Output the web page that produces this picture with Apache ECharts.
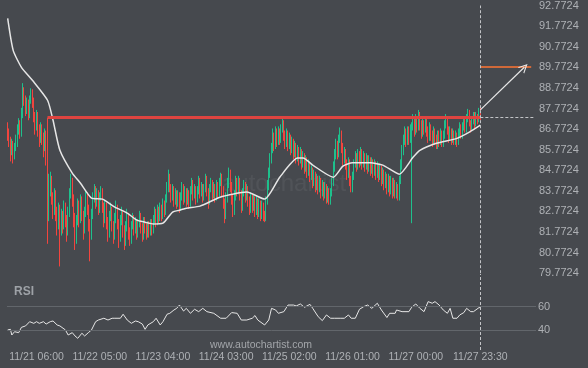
<!DOCTYPE html>
<html><head><meta charset="utf-8">
<script src="https://cdn.jsdelivr.net/npm/echarts@6/dist/echarts.min.js"></script>
<style>html,body{margin:0;padding:0;background:#46494e;}#c{width:588px;height:368px;}</style>
</head><body><div id="c"></div>
<script>
const firstOpen = 86.9;
const closes = [
86.6,86.2,85.7,86.0,85.5,85.9,86.1,86.8,87.0,86.6,
87.5,88.6,88.2,87.7,88.0,87.5,88.2,88.6,88.1,87.4,
86.9,87.5,86.8,86.3,86.9,86.4,85.9,86.5,86.1,82.6,
83.8,84.3,83.5,82.9,83.6,82.8,82.2,82.9,81.9,82.6,
82.1,83.0,82.4,81.8,82.7,83.6,84.2,83.4,82.5,81.4,
82.3,83.1,82.4,83.3,82.6,81.9,82.7,83.5,82.9,82.2,
81.6,82.6,83.4,83.9,83.2,83.7,82.9,83.5,83.8,83.0,
82.4,83.1,82.3,81.7,82.5,82.9,82.1,81.6,82.4,83.0,
82.2,81.5,82.3,82.7,81.9,81.3,82.0,82.6,81.8,81.4,
82.1,82.5,81.9,82.3,81.7,82.2,82.6,82.0,81.6,82.3,
82.0,81.7,82.1,81.8,82.2,81.9,82.4,82.8,82.3,82.9,
82.5,83.0,82.6,83.2,82.8,83.4,83.9,84.5,84.0,83.5,
83.9,83.3,83.7,83.2,83.6,83.0,83.5,84.0,83.4,83.8,
83.3,83.7,83.2,83.8,84.2,83.6,83.9,83.4,83.8,84.3,
83.7,84.0,83.5,83.9,84.4,83.8,83.3,83.9,84.2,83.6,
84.0,83.5,84.1,83.7,84.2,84.5,83.8,83.2,82.6,83.4,
84.1,84.6,84.0,83.4,82.8,83.5,84.2,83.8,84.3,83.6,
83.0,83.7,84.1,83.5,83.9,83.3,82.9,83.5,83.0,83.4,
82.8,83.3,82.7,83.2,82.6,83.1,82.6,82.5,83.3,84.0,
84.6,85.3,85.8,86.4,86.0,86.6,86.2,86.7,86.3,86.8,
87.1,86.5,86.1,86.6,86.0,86.4,85.8,86.2,85.6,86.0,
85.4,85.8,85.3,85.7,85.1,85.5,84.9,85.3,84.7,85.1,
84.5,84.8,84.2,84.6,84.0,84.4,83.9,84.3,83.7,84.1,
83.6,84.0,83.4,83.8,83.3,83.7,84.2,84.9,85.5,86.0,
85.6,86.3,86.6,85.9,85.3,85.7,85.1,84.6,85.2,84.3,
83.8,84.5,85.1,85.5,85.0,85.6,85.2,85.7,85.1,85.5,
85.0,85.4,84.9,85.3,84.8,85.2,84.7,85.1,84.6,85.0,
84.5,84.9,84.3,84.7,84.1,84.5,83.9,84.4,83.8,84.3,
83.7,84.2,83.6,84.0,83.5,84.3,85.0,85.7,86.2,86.6,
86.2,86.7,86.3,86.8,86.9,87.2,86.7,87.3,86.9,87.5,
87.0,86.6,87.1,86.8,87.2,86.7,86.4,86.9,86.5,86.2,
86.7,86.3,86.0,86.5,86.2,86.6,86.1,86.5,87.0,87.3,
86.8,86.4,86.7,86.3,86.6,86.2,86.5,86.1,86.6,86.9,
86.5,86.9,87.2,86.8,87.3,87.6,87.1,86.8,87.2,87.5,
87.0,87.4,87.2,87.7,87.35];
const highs = [
87.1,86.8,86.4,86.3,86.2,86.1,86.5,87.0,87.3,87.2,
87.8,89.0,88.8,88.4,88.3,88.2,88.4,88.75,88.7,88.3,
87.6,87.7,87.6,87.0,87.1,87.0,86.6,86.8,86.7,87.32,
84.6,84.7,84.5,83.7,83.9,83.8,83.0,83.2,83.1,82.9,
82.8,83.3,83.2,82.6,83.0,83.9,84.6,84.4,83.6,82.7,
82.6,83.4,83.3,83.6,83.5,82.8,83.0,83.8,83.7,83.1,
82.4,82.9,83.7,84.1,84.0,83.9,83.8,83.7,84.0,83.9,
83.2,83.3,83.2,82.5,82.8,83.2,83.0,82.3,82.7,83.3,
83.1,82.4,82.6,83.0,82.8,82.1,82.3,82.9,82.7,82.0,
82.3,82.7,82.6,82.5,82.4,82.4,82.8,82.7,82.2,82.5,
82.5,82.2,82.3,82.3,82.4,82.4,82.6,83.0,82.9,83.1,
83.0,83.2,83.1,83.4,83.3,83.6,84.2,84.8,84.6,84.1,
84.1,84.0,83.9,83.8,83.8,83.7,83.7,84.2,84.1,84.0,
83.9,83.9,83.8,84.0,84.4,84.3,84.1,84.0,84.0,84.5,
84.4,84.2,84.1,84.1,84.6,84.5,83.9,84.1,84.4,84.3,
84.2,84.1,84.3,84.2,84.4,84.65,84.6,84.0,83.4,83.7,
84.4,84.9,84.8,84.2,83.6,83.8,84.5,84.4,84.5,84.4,
83.8,83.9,84.3,84.2,84.1,84.0,83.5,83.7,83.6,83.6,
83.5,83.5,83.4,83.4,83.3,83.3,83.2,82.8,83.5,84.3,
84.9,85.6,86.1,86.8,86.6,86.9,86.8,86.9,86.8,87.0,
87.35,87.2,86.7,86.8,86.7,86.6,86.5,86.4,86.3,86.2,
86.1,86.0,85.9,85.9,85.8,85.7,85.6,85.5,85.4,85.3,
85.2,85.0,84.9,84.8,84.7,84.6,84.5,84.5,84.4,84.3,
84.2,84.2,84.1,84.0,83.9,83.9,84.4,85.2,85.8,86.3,
86.2,86.5,86.85,86.7,86.1,85.9,85.8,85.3,85.4,85.3,
84.5,84.7,85.3,85.7,85.6,85.8,85.7,85.9,85.8,85.7,
85.6,85.6,85.5,85.5,85.4,85.4,85.3,85.3,85.2,85.2,
85.1,85.1,85.0,84.9,84.8,84.7,84.6,84.6,84.5,84.5,
84.4,84.4,84.3,84.2,84.1,84.5,85.3,86.0,86.5,86.9,
86.8,86.9,86.9,87.0,87.1,87.5,87.3,87.5,87.4,87.7,
87.6,87.2,87.3,87.2,87.4,87.3,86.9,87.1,87.0,86.7,
86.9,86.8,86.5,86.7,86.7,86.8,86.7,86.7,87.2,87.5,
87.4,86.9,86.9,86.8,86.8,86.7,86.7,86.6,86.8,87.1,
87.0,87.1,87.4,87.3,87.5,87.75,87.7,87.2,87.4,87.6,
87.6,87.6,87.5,87.8,87.85];
const lows = [
86.2,85.9,85.2,85.5,85.1,85.3,85.7,85.9,86.5,86.3,
86.4,87.3,87.9,87.4,87.5,87.2,87.3,88.0,87.8,87.1,
86.5,86.7,86.4,85.9,86.1,86.0,85.4,85.7,85.0,81.2,
82.3,83.5,83.1,82.4,82.6,82.3,81.6,81.9,80.1,81.6,
81.7,81.9,82.0,81.3,81.6,82.5,83.4,83.0,82.0,80.9,
81.2,82.1,82.0,82.2,82.3,81.4,81.7,82.5,82.6,81.8,
80.35,81.4,82.4,83.2,82.9,83.0,82.6,82.7,83.3,82.7,
82.0,82.2,81.9,81.3,81.5,82.3,81.8,81.2,81.4,82.2,
81.9,81.0,81.3,82.1,81.5,80.9,81.1,81.8,81.4,81.1,
81.2,81.9,81.6,81.7,81.4,81.5,82.0,81.7,81.3,81.4,
81.7,81.4,81.5,81.5,81.6,81.6,81.7,82.2,82.0,82.1,
82.2,82.3,82.3,82.4,82.5,82.6,83.2,83.7,83.7,83.2,
83.3,83.0,83.1,82.9,83.0,82.7,82.8,83.3,83.1,83.2,
83.0,83.1,82.9,83.0,83.6,83.3,83.4,83.1,83.2,83.6,
83.4,83.5,83.2,83.3,83.7,83.5,82.9,83.1,83.7,83.3,
83.4,83.2,83.3,83.4,83.5,84.0,83.5,82.9,82.2,82.4,
83.2,83.9,83.7,83.1,82.5,82.6,83.3,83.5,83.6,83.3,
82.7,82.8,83.5,83.2,83.3,83.0,82.6,82.7,82.7,82.8,
82.5,82.6,82.4,82.5,82.3,82.4,82.3,82.25,82.3,83.1,
83.8,84.4,85.1,85.6,85.7,85.8,85.9,86.0,86.0,86.1,
86.6,86.2,85.8,85.9,85.7,85.8,85.5,85.6,85.3,85.4,
85.1,85.2,85.0,85.1,84.8,84.9,84.6,84.7,84.4,84.5,
84.2,84.3,83.9,84.0,83.7,83.8,83.6,83.7,83.4,83.5,
83.3,83.4,83.15,83.2,83.1,83.1,83.5,84.0,84.7,85.3,
85.3,85.4,86.1,85.6,85.0,85.1,84.8,84.3,84.4,84.0,
83.7,83.7,84.3,84.9,84.7,84.8,84.9,85.0,84.8,84.9,
84.7,84.8,84.6,84.7,84.5,84.6,84.4,84.5,84.3,84.4,
84.2,84.3,84.0,84.1,83.8,83.9,83.6,83.7,83.5,83.6,
83.4,83.5,83.4,83.4,83.3,83.3,84.1,84.8,85.5,86.0,
85.9,86.0,86.0,86.1,82.2,86.7,86.4,86.5,86.6,86.7,
86.7,86.3,86.4,86.5,86.6,86.4,86.1,86.2,86.2,85.9,
86.0,86.0,85.8,85.8,85.9,86.0,85.9,85.9,86.3,86.8,
86.5,86.1,86.2,86.0,86.1,86.0,86.0,85.9,86.0,86.4,
86.3,86.3,86.7,86.6,86.6,87.1,86.9,86.6,86.7,87.0,
86.8,86.9,87.0,87.1,87.2];
const maIdx = [0,4,10,18,29,33,38,47,53,61,69,78,87,94,100,106,113,120,125,130,140,155,174,187,198,211,215,222,237,244,251,264,273,285,295,300,312,327,336,344];
const maVal = [92.14,90.59,89.77,89.14,88.17,87.2,85.74,84.63,84.14,83.42,83.37,82.98,82.69,82.35,82.25,82.16,82.2,82.74,82.83,82.93,83.03,83.47,83.71,83.37,84.43,85.36,85.36,85.02,84.43,84.97,85.13,85.13,85.02,84.58,85.4,85.74,86.08,86.32,86.62,86.96];
const rsiIdx = [0,2,3,5,8,10,13,16,19,21,23,26,28,31,33,36,38,42,44,47,49,51,54,56,59,61,64,66,70,73,76,78,82,84,87,90,93,95,98,100,102,106,108,111,113,116,118,121,123,125,128,130,133,136,139,142,145,150,155,159,163,167,170,174,178,180,182,187,190,192,195,197,201,204,208,210,213,216,220,222,226,229,232,235,238,242,245,248,250,253,256,259,262,265,269,272,276,278,282,283,287,292,294,297,300,303,306,309,311,314,317,320,322,324,327,329,332,334,337,339,340,343,344];
const rsiVal = [40.3,40.8,36,38.8,38,42.5,43.7,47.3,45.9,47.3,45.9,47.3,45.3,47.3,47.9,44.5,43.7,40.3,36,38,35.2,33.2,37.5,35.2,38.3,40.3,47.3,48.7,50.2,48.7,50.2,50.2,50.2,53.6,48.7,45.9,47.9,47.3,45.3,40.8,44.5,47.3,50.2,44.5,47.3,53.6,54.4,57.2,58.6,61.4,56.3,58.6,54.4,57.8,55.8,58.6,55.8,54.4,50.2,50.2,55,54.4,48.7,48.7,50.2,52.5,48.7,44.5,48.7,58.6,57.2,54.4,55.8,61.4,61.4,60.6,62.3,59.5,62,58.6,51.5,48.2,53,50.2,50.2,50.2,50.2,53,50.2,50.2,57.8,60,61.4,58.6,62.9,57.2,50.8,54.4,54.4,57.2,55.8,55.8,59.5,62.3,58.6,55.8,64.3,62.9,64.3,61.4,57.2,54.4,58.6,50.2,50.2,53,55,58.6,55.8,55.8,54.4,59.2,59.2];
const xTickIdx = [21,67,113,159,205,251,297,344];
const xTickLabels = ['11/21 06:00','11/22 05:00','11/23 04:00','11/24 03:00','11/25 02:00','11/26 01:00','11/27 00:00','11/27 23:30'];
const yTicks = [79.7724,80.7724,81.7724,82.7724,83.7724,84.7724,85.7724,86.7724,87.7724,88.7724,89.7724,90.7724,91.7724,92.7724];
const rsiLevels = [60, 40];
const resistance = 87.32, resistStart = 29;
const lastIdx = 344, lastPrice = 87.35, arrowFrom = 87.7;
const target = 89.7724, targetEnd = 381, arrowTipIdx = 376;
const slotCount = 385;

const opens = [firstOpen].concat(closes.slice(0, -1));
const ohlc = closes.map((c, i) => [opens[i], c, lows[i], highs[i]]);
const cats = Array.from({length: slotCount}, (_, i) => String(i));
const labelMap = {}; xTickIdx.forEach((k, j) => labelMap[k] = xTickLabels[j]);
const maData = maIdx.map((k, j) => [k, maVal[j]]);
const rsiData = rsiIdx.map((k, j) => [k, rsiVal[j]]);
const font = 'Liberation Sans, Arial, sans-serif';
const lblColor = '#aeb1b5';
const chevron = 'path://M0,10 L5,0 L10,10 L8.6,10 L5,2.8 L1.4,10 Z';

const chart = echarts.init(document.getElementById('c'), null, {renderer: 'canvas'});
chart.setOption({
  backgroundColor: '#46494e',
  animation: false,
  textStyle: {fontFamily: font},
  grid: [
    {left: 7, top: 5, width: 529, height: 268.2, containLabel: false},
    {left: 7, top: 274, width: 529, height: 76, containLabel: false}
  ],
  graphic: [
    {type: 'text', left: 222, top: 172, silent: true, style: {text: 'autochartist', fill: 'rgba(255,255,255,0.06)', font: '24px ' + font}},
    {type: 'text', left: 14, top: 286, silent: true, style: {text: 'RSI', fill: '#9ea2a7', font: 'bold 12px ' + font}},
    {type: 'text', left: 210, top: 340, silent: true, style: {text: 'www.autochartist.com', fill: '#a3a6aa', font: '10.5px ' + font}}
  ],
  xAxis: [
    {type: 'category', gridIndex: 0, data: cats, axisLine: {show: false}, axisTick: {show: false}, axisLabel: {show: false}, splitLine: {show: false}},
    {type: 'category', gridIndex: 1, data: cats, axisLine: {show: false}, axisTick: {show: false}, splitLine: {show: false},
      axisLabel: {interval: (i) => labelMap[i] !== undefined, formatter: (v) => labelMap[Number(v)] || '', color: lblColor, fontSize: 10.5, margin: 2, fontFamily: font}}
  ],
  yAxis: [
    {type: 'value', gridIndex: 0, position: 'right', min: yTicks[0], max: 92.77, interval: 1,
      axisLine: {show: false}, axisTick: {show: false}, splitLine: {show: false},
      axisLabel: {color: lblColor, fontSize: 11, margin: 3, hideOverlap: true, fontFamily: font,
        formatter: (v) => { let b = yTicks[0]; yTicks.forEach(t => { if (Math.abs(t - v) < Math.abs(b - v)) b = t; }); return b.toFixed(4); }}},
    {type: 'value', gridIndex: 1, min: 23.3, max: 87.7, show: false, splitLine: {show: false}}
  ],
  series: [
    {
      type: 'candlestick', xAxisIndex: 0, yAxisIndex: 0, data: ohlc, barWidth: 0.3,
      itemStyle: {color: '#1ec08c', color0: '#f2453e', borderColor: '#1ec08c', borderColor0: '#f2453e', borderWidth: 1},
      markLine: {
        silent: true, animation: false, symbol: ['none', 'none'], label: {show: false},
        data: [
          [{coord: [resistStart, resistance], lineStyle: {color: '#df4440', width: 3, type: 'solid'}}, {coord: [lastIdx, resistance]}],
          [{coord: [lastIdx, lastPrice], lineStyle: {color: '#c3c5c8', width: 1, type: [3, 2]}}, {coord: [slotCount - 1, lastPrice]}],
          [{coord: [lastIdx, target], lineStyle: {color: '#ff7433', width: 1.5, type: 'solid'}}, {coord: [targetEnd, target]}],
          [{coord: [lastIdx, arrowFrom], lineStyle: {color: '#e8e8e8', width: 1.2, type: 'solid'}}, {coord: [arrowTipIdx, target], symbol: chevron, symbolSize: [9, 9]}],
          {xAxis: lastIdx, lineStyle: {color: '#c3c5c8', width: 1, type: [3, 2]}}
        ]
      }
    },
    {
      type: 'line', xAxisIndex: 0, yAxisIndex: 0, data: maData, smooth: 0.2, symbol: 'none',
      lineStyle: {color: '#e6e6e6', width: 1.5}
    },
    {
      type: 'line', xAxisIndex: 1, yAxisIndex: 1, data: rsiData, symbol: 'none',
      lineStyle: {color: '#e6e6e6', width: 1},
      markLine: {
        silent: true, animation: false, symbol: ['none', 'none'],
        data: [
          {yAxis: rsiLevels[0], lineStyle: {color: '#62666b', width: 1, type: 'solid'}, label: {show: true, position: 'end', formatter: String(rsiLevels[0]), color: lblColor, fontSize: 11, distance: 2}},
          {yAxis: rsiLevels[1], lineStyle: {color: '#62666b', width: 1, type: 'solid'}, label: {show: true, position: 'end', formatter: String(rsiLevels[1]), color: lblColor, fontSize: 11, distance: 2}},
          {xAxis: lastIdx, lineStyle: {color: '#c3c5c8', width: 1, type: [3, 2]}, label: {show: false}}
        ]
      }
    }
  ]
});
</script></body></html>
